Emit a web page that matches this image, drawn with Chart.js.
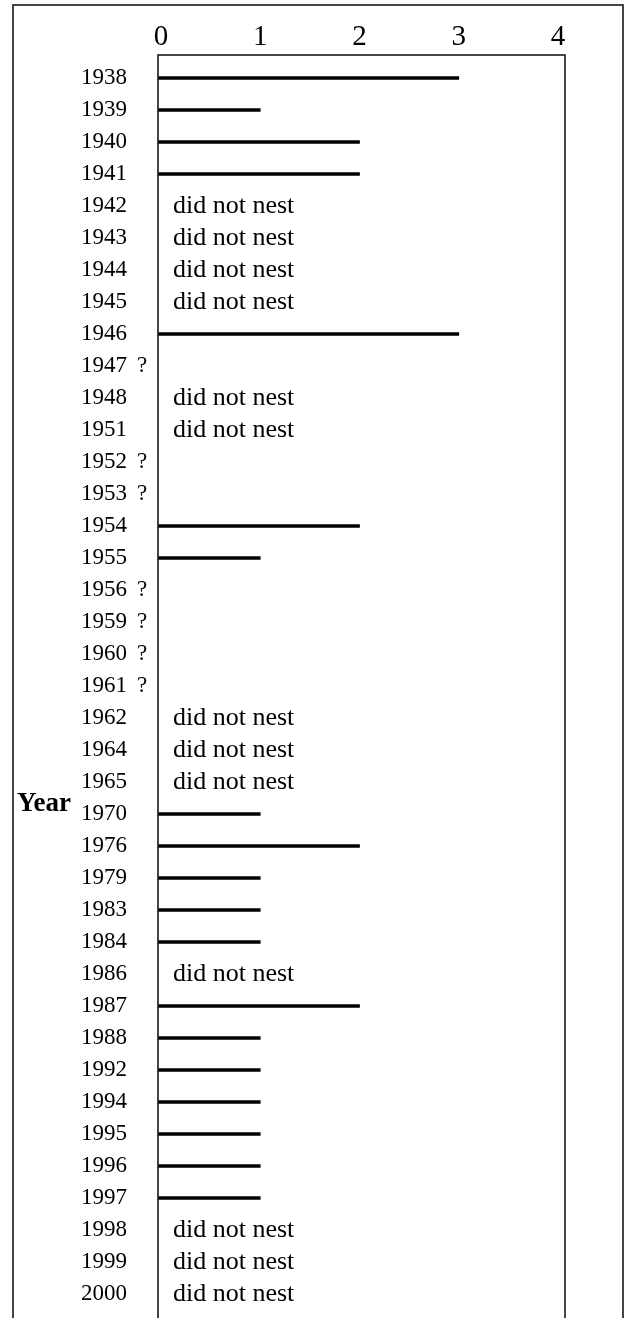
<!DOCTYPE html>
<html>
<head>
<meta charset="utf-8">
<script src="https://cdn.jsdelivr.net/npm/chart.js@4"></script>
<style>
  html, body { margin: 0; padding: 0; background: #fff; overflow: hidden; width: 628px; height: 1318px; }
  #frame { position: absolute; left: 12px; top: 4px; width: 612px; height: 1400px; border: 2px solid #444; box-sizing: border-box; }
  #wrap { position: absolute; left: 0; top: 0; }
</style>
</head>
<body>
<div id="frame"></div>
<div id="wrap"><canvas id="myChart" width="628" height="1400"></canvas></div>
<script>
const years = ['1938', '1939', '1940', '1941', '1942', '1943', '1944', '1945', '1946', '1947',
    '1948', '1951', '1952', '1953', '1954', '1955', '1956', '1959', '1960', '1961',
    '1962', '1964', '1965', '1970', '1976', '1979', '1983', '1984', '1986', '1987',
    '1988', '1992', '1994', '1995', '1996', '1997', '1998', '1999', '2000'];

// number of nests per year (null = no bar)
const nestCounts = [3, 1, 2, 2, null, null, null, null, 3, null,
    null, null, null, null, 2, 1, null, null, null, null,
    null, null, null, 1, 2, 1, 1, 1, null, 2,
    1, 1, 1, 1, 1, 1, null, null, null];

const didNotNest = ['1942', '1943', '1944', '1945', '1948', '1951', '1962', '1964', '1965', '1986', '1998', '1999', '2000'];
const unknownYears = ['1947', '1952', '1953', '1956', '1959', '1960', '1961'];

const xTicks = [0, 1, 2, 3, 4];

const xMin = -0.03, xMax = 4.07;
const rowStep = 32;      // px between rows
const yMin = -0.72;      // room above the first row
const serif = '"Liberation Serif", "Times New Roman", serif';

const barData = [];
nestCounts.forEach((v, i) => {
    if (v !== null) barData.push({ x: v, y: i });
});

// plot box + notes + axis title
const annotations = {
    id: 'annotations',
    afterDraw(chart) {
        const ctx = chart.ctx;
        const area = chart.chartArea;
        const yScale = chart.scales.y;
        ctx.save();
        ctx.strokeStyle = '#1a1a1a';
        ctx.lineWidth = 1.6;
        ctx.strokeRect(area.left, area.top, area.right - area.left, area.bottom - area.top);

        ctx.fillStyle = '#000';
        ctx.textBaseline = 'middle';
        ctx.textAlign = 'left';
        years.forEach((yr, i) => {
            const y = yScale.getPixelForValue(i);
            if (didNotNest.includes(yr)) {
                ctx.font = '26px ' + serif;
                ctx.fillText('did not nest', area.left + 15, y);
            }
            if (unknownYears.includes(yr)) {
                ctx.font = '23px ' + serif;
                ctx.fillText('?', 137, y);
            }
        });

        ctx.font = 'bold 27px ' + serif;
        ctx.fillText('Year', 17, yScale.getPixelForValue(22.7));
        ctx.restore();
    }
};

const ctx = document.getElementById('myChart').getContext('2d');
const chart = new Chart(ctx, {
    type: 'bar',
    data: {
        datasets: [{
            data: barData,
            backgroundColor: '#000',
            barThickness: 3,
            base: xMin
        }]
    },
    options: {
        indexAxis: 'y',
        responsive: false,
        animation: false,
        devicePixelRatio: 1,
        layout: { padding: { left: 0, top: 0, right: 63, bottom: 0 } },
        plugins: {
            legend: { display: false },
            tooltip: { enabled: false }
        },
        scales: {
            x: {
                type: 'linear',
                position: 'top',
                min: xMin,
                max: xMax,
                afterBuildTicks: scale => { scale.ticks = xTicks.map(v => ({ value: v })); },
                afterFit: scale => { scale.height = 55; },
                grid: { display: false, drawTicks: false },
                border: { display: false },
                ticks: {
                    color: '#000',
                    padding: 0,
                    font: { family: serif, size: 29 }
                }
            },
            y: {
                type: 'linear',
                reverse: true,
                offset: false,
                min: yMin,
                max: 40,
                afterBuildTicks: scale => { scale.ticks = years.map((y, i) => ({ value: i })); },
                afterFit: scale => { scale.width = 158; },
                grid: { display: false, drawTicks: false },
                border: { display: false },
                ticks: {
                    color: '#000',
                    padding: 31,
                    autoSkip: false,
                    font: { family: serif, size: 23 },
                    callback: v => years[v]
                }
            }
        }
    },
    plugins: [annotations]
});

// keep the row spacing fixed whatever height the plot area ends up with
const area = chart.chartArea;
chart.options.scales.y.max = yMin + (area.bottom - area.top) / rowStep;
chart.update();
</script>
</body>
</html>
